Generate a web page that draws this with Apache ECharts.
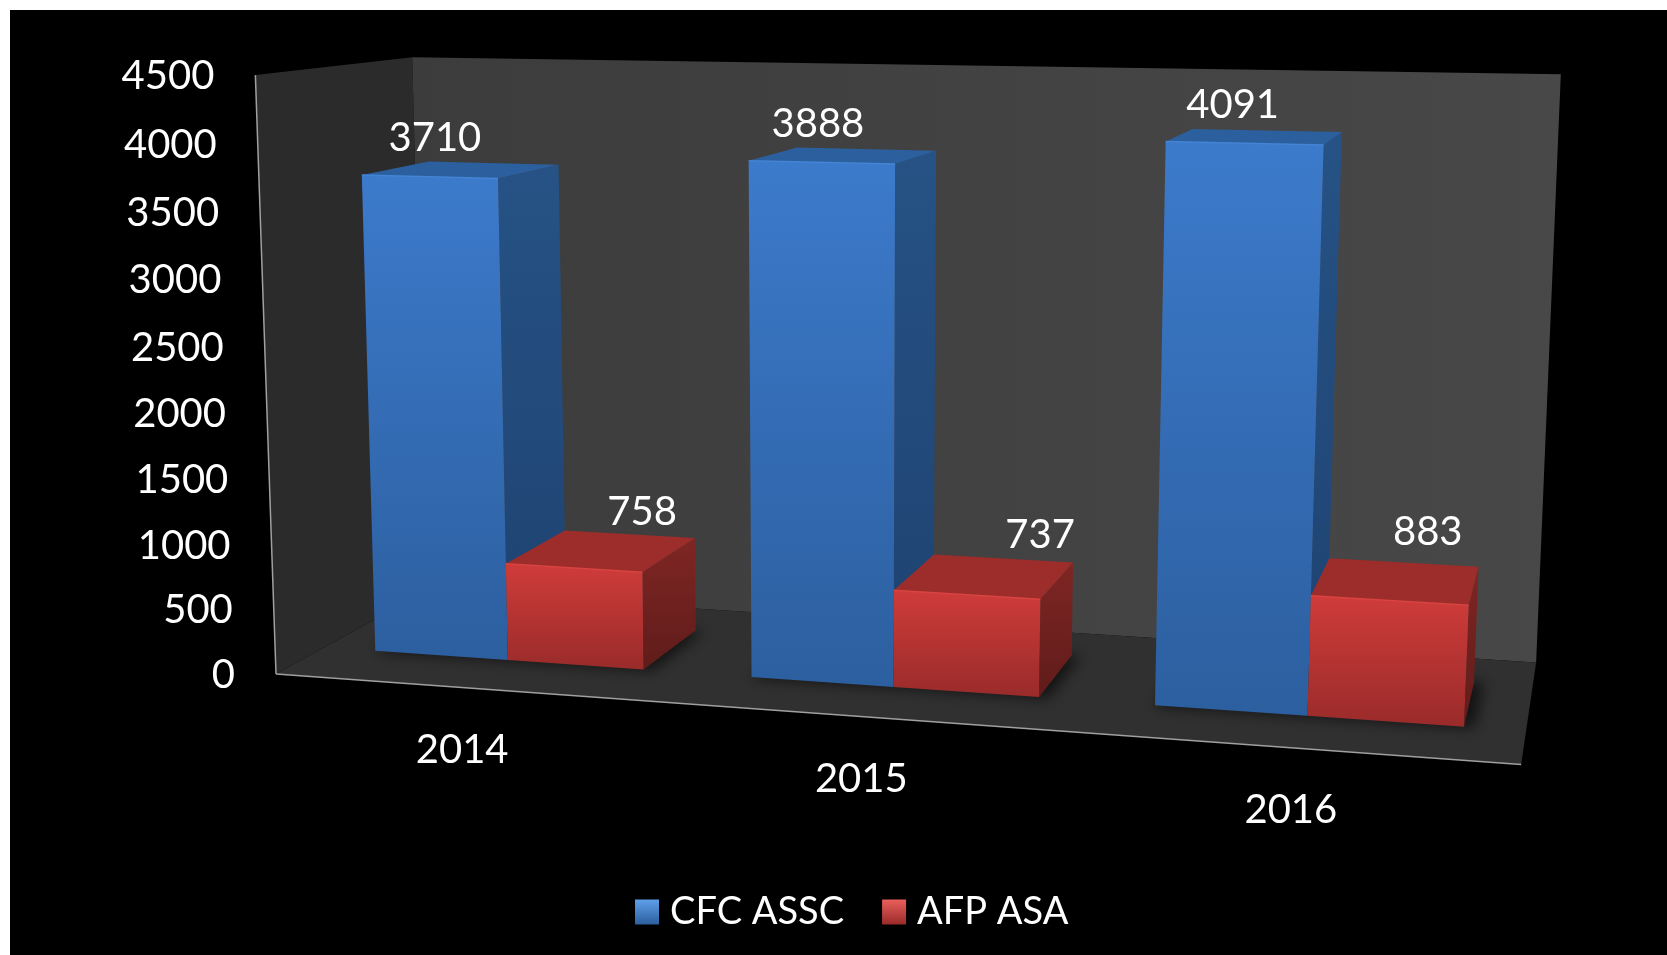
<!DOCTYPE html>
<html><head><meta charset="utf-8">
<style>html,body{margin:0;padding:0;background:#000;overflow:hidden}#c{width:1667px;height:955px}</style>
<script src="https://cdn.jsdelivr.net/npm/echarts@6/dist/echarts.min.js"></script>
</head><body><div id="c"></div>
<script>
// ---- data ----
var categories = ['2014', '2015', '2016'];
var cfcAssc = [3710, 3888, 4091];
var afpAsa = [758, 737, 883];
var yTicks = [0, 500, 1000, 1500, 2000, 2500, 3000, 3500, 4000, 4500];

// ---- layout ----
var FONT = 'Lato';
var FS = 40, LEGEND_FS = 38;
var GRID = {left: 276, top: 74, width: 1244, height: 598};
var BAR_W = 0.12, Z_FRONT = 0.3, Z_BACK = 0.75;
// camera fit: points of the chart box [u, v, z] and where they sit on screen [x, y]
var ANCHORS = [
  [[0,0,0],[276,672]], [[0,1,0],[247,74]], [[0,1,1],[423,57]], [[0,0,1],[416,590]],
  [[1,1,1],[1561,72]], [[1,0,1],[1536,661]], [[1,0,0],[1520,766]],
  [[1/6,0,0.3],[513,658]], [[0.5,0,0.3],[893,687]], [[5/6,0,0.3],[1308,717]],
  [[1/6-0.12,0.824,0.3],[364,178]], [[1/6,0.824,0.3],[502,178]], [[5/6-0.12,0.909,0.3],[1163,141]],
  [[5/6+0.12,0.196,0.3],[1468,606]], [[5/6+0.12,0,0.3],[1465,727]], [[1/6+0.12,0,0.3],[650,668]],
  [[1/6+0.12,0,0.75],[696,630]], [[1/6+0.12,0.168,0.75],[695,544]], [[1/6,0.824,0.75],[551,167]]
];
var SHIFT_CFC = [[5,-39],[-4,-38],[-12,-38]];
var SHIFT_AFP = [[68,-56],[73,-60],[38,-68]];

function solveP(pts) {
  var n = 11, A = [], b = [], i, j, k;
  for (i = 0; i < n; i++) { A.push(new Array(n).fill(0)); b.push(0); }
  function add(r, v) { for (i = 0; i < n; i++) { for (j = 0; j < n; j++) A[i][j] += r[i]*r[j]; b[i] += r[i]*v; } }
  pts.forEach(function (p) {
    var X = p[0][0], Y = p[0][1], Z = p[0][2], x = p[1][0], y = p[1][1];
    add([X,Y,Z,1,0,0,0,0,-x*X,-x*Y,-x*Z], x);
    add([0,0,0,0,X,Y,Z,1,-y*X,-y*Y,-y*Z], y);
  });
  for (k = 0; k < n; k++) {
    var m = k;
    for (i = k+1; i < n; i++) if (Math.abs(A[i][k]) > Math.abs(A[m][k])) m = i;
    var t = A[k]; A[k] = A[m]; A[m] = t; t = b[k]; b[k] = b[m]; b[m] = t;
    for (i = k+1; i < n; i++) { var f = A[i][k]/A[k][k]; for (j = k; j < n; j++) A[i][j] -= f*A[k][j]; b[i] -= f*b[k]; }
  }
  var s = new Array(n);
  for (i = n-1; i >= 0; i--) { var v = b[i]; for (j = i+1; j < n; j++) v -= A[i][j]*s[j]; s[i] = v/A[i][i]; }
  return s;
}
var P = solveP(ANCHORS);
function proj(u, v, z) {
  var w = P[8]*u + P[9]*v + P[10]*z + 1;
  return [(P[0]*u + P[1]*v + P[2]*z + P[3])/w, (P[4]*u + P[5]*v + P[6]*z + P[7])/w];
}
function norm(params, pt) {
  var r = params.coordSys;
  return [(pt[0]-r.x)/r.width, (r.y+r.height-pt[1])/r.height];
}
function lin(a, b, horiz) {
  return new echarts.graphic.LinearGradient(0, 0, horiz?1:0, horiz?0:1, [{offset:0,color:a},{offset:1,color:b}]);
}
function poly(pts, fill, extra) {
  var st = {fill: fill};
  if (extra) for (var k in extra) st[k] = extra[k];
  return {type:'polygon', shape:{points:pts}, style:st};
}
function line(a, b, color, w) {
  return {type:'line', shape:{x1:a[0],y1:a[1],x2:b[0],y2:b[1]}, style:{stroke:color, lineWidth:w}};
}
function text(s, x, y, align) {
  return {type:'text', style:{text:s, x:x, y:y, align:align||'center', verticalAlign:'middle', fill:'#fff', fontFamily:FONT, fontSize:FS}};
}

function barRender(side, shifts, c) {
  return function (params, api) {
    var idx = api.value(0), val = api.value(1);
    var n = norm(params, api.coord([idx, val]));
    var u0 = side < 0 ? n[0]-BAR_W : n[0], u1 = u0+BAR_W, v = n[1];
    var zf = Z_FRONT, zb = Z_BACK;
    var fbl = proj(u0,0,zf), fbr = proj(u1,0,zf), ftl = proj(u0,v,zf), ftr = proj(u1,v,zf);
    var btl = proj(u0,v,zb), btr = proj(u1,v,zb), bbr = proj(u1,0,zb);
    var kids = [];
    kids.push(poly([ftr,btr,bbr,fbr], lin(c.side[0], c.side[1], false)));
    kids.push(poly([ftl,ftr,btr,btl], c.top));
    kids.push(poly([ftl,ftr,fbr,fbl], lin(c.front[0], c.front[1], false)));
    kids.push(line(ftl, ftr, c.edge, 1.5));
    var sh = shifts[idx], mid = [(ftl[0]+ftr[0])/2, (ftl[1]+ftr[1])/2];
    kids.push(text(String(val), mid[0]+sh[0], mid[1]+sh[1]));
    return {type:'group', children:kids};
  };
}
// soft floor shadow under each pair of bars: the shape itself is drawn off-canvas, only its blur lands here
function shadowRender(params, api) {
  var n = norm(params, api.coord([api.value(0), 0]));
  var far = 3000, pts = [
    proj(n[0]-BAR_W,0,Z_FRONT-0.01), proj(n[0]+BAR_W+0.008,0,Z_FRONT-0.01),
    proj(n[0]+BAR_W+0.008,0,Z_BACK), proj(n[0]-BAR_W,0,Z_BACK)
  ].map(function (p) { return [p[0]-far, p[1]]; });
  return poly(pts, '#000', {shadowBlur:14, shadowColor:'rgba(0,0,0,0.6)', shadowOffsetX:far});
}

function wallRender(params, api) {
  var a = proj(0,0,0), b = proj(0,1,0), c = proj(0,1,1), d = proj(0,0,1),
      e = proj(1,1,1), f = proj(1,0,1), g = proj(1,0,0);
  return {type:'group', children:[
    poly([b,c,d,a], '#2b2b2b'),
    poly([c,e,f,d], lin('#3c3c3c','#484848',true)),
    poly([a,d,f,g], '#303030'),
    line(a,b,'#a0a0a0',1.5),
    line(a,g,'#a0a0a0',1.5)
  ]};
}
function yLabelRender(params, api) {
  var n = norm(params, api.coord([0, api.value(0)]));
  var p = proj(0, n[1], 0);
  return text(String(api.value(0)), p[0]-41, p[1]+1, 'right');
}
function xLabelRender(params, api) {
  var n = norm(params, api.coord([api.value(0), 0]));
  var p = proj(n[0], 0, 0);
  return text(categories[api.value(0)], p[0]-3, p[1]+62);
}

var BLUE = {front:['#3c7acb','#2c5f9f'], top:'#2c5f9d', side:['#265285','#1e4270'], edge:'#4484d4'};
var RED  = {front:['#cf3c3a','#992b2a'], top:'#9c2d2a', side:['#7f2624','#5f1c1a'], edge:'#d84441'};

var chart = echarts.init(document.getElementById('c'));
chart.setOption({
  animation: false,
  backgroundColor: '#000',
  grid: GRID,
  xAxis: {type:'category', data:categories, show:false},
  yAxis: {type:'value', min:0, max:4500, interval:500, show:false},
  legend: {
    left: 630, top: 888, itemWidth: 24, itemHeight: 25, itemGap: 38, selectedMode:false,
    textStyle: {color:'#fff', fontFamily:FONT, fontSize:LEGEND_FS, padding:[0,0,0,6]},
    data: [
      {name:'CFC ASSC', icon:'rect', itemStyle:{color:lin('#5fa0ea','#2c5f9f',false)}},
      {name:'AFP ASA', icon:'rect', itemStyle:{color:lin('#ea5f5c','#9a2b2a',false)}}
    ]
  },
  graphic: [
    {type:'rect', shape:{x:0,y:0,width:1667,height:10}, style:{fill:'#fff'}, silent:true},
    {type:'rect', shape:{x:0,y:0,width:10,height:955}, style:{fill:'#fff'}, silent:true}
  ],
  series: [
    {type:'custom', name:'walls', coordinateSystem:'cartesian2d', silent:true, clip:false, z:1, renderItem:wallRender, data:[[0,0]]},
    {type:'custom', name:'shadows', coordinateSystem:'cartesian2d', silent:true, clip:false, z:2, renderItem:shadowRender, data:categories.map(function(c,i){return [i];})},
    {type:'custom', name:'CFC ASSC', coordinateSystem:'cartesian2d', clip:false, z:3, itemStyle:{color:'#3f7fd2'},
      renderItem:barRender(-1, SHIFT_CFC, BLUE), encode:{x:0,y:1}, data:cfcAssc.map(function(v,i){return [i,v];})},
    {type:'custom', name:'AFP ASA', coordinateSystem:'cartesian2d', clip:false, z:4, itemStyle:{color:'#d43e3b'},
      renderItem:barRender(1, SHIFT_AFP, RED), encode:{x:0,y:1}, data:afpAsa.map(function(v,i){return [i,v];})},
    {type:'custom', name:'yLabels', coordinateSystem:'cartesian2d', silent:true, clip:false, z:5, renderItem:yLabelRender, encode:{y:0}, data:yTicks.map(function(v){return [v];})},
    {type:'custom', name:'xLabels', coordinateSystem:'cartesian2d', silent:true, clip:false, z:5, renderItem:xLabelRender, data:categories.map(function(c,i){return [i];})}
  ]
});
</script></body></html>
